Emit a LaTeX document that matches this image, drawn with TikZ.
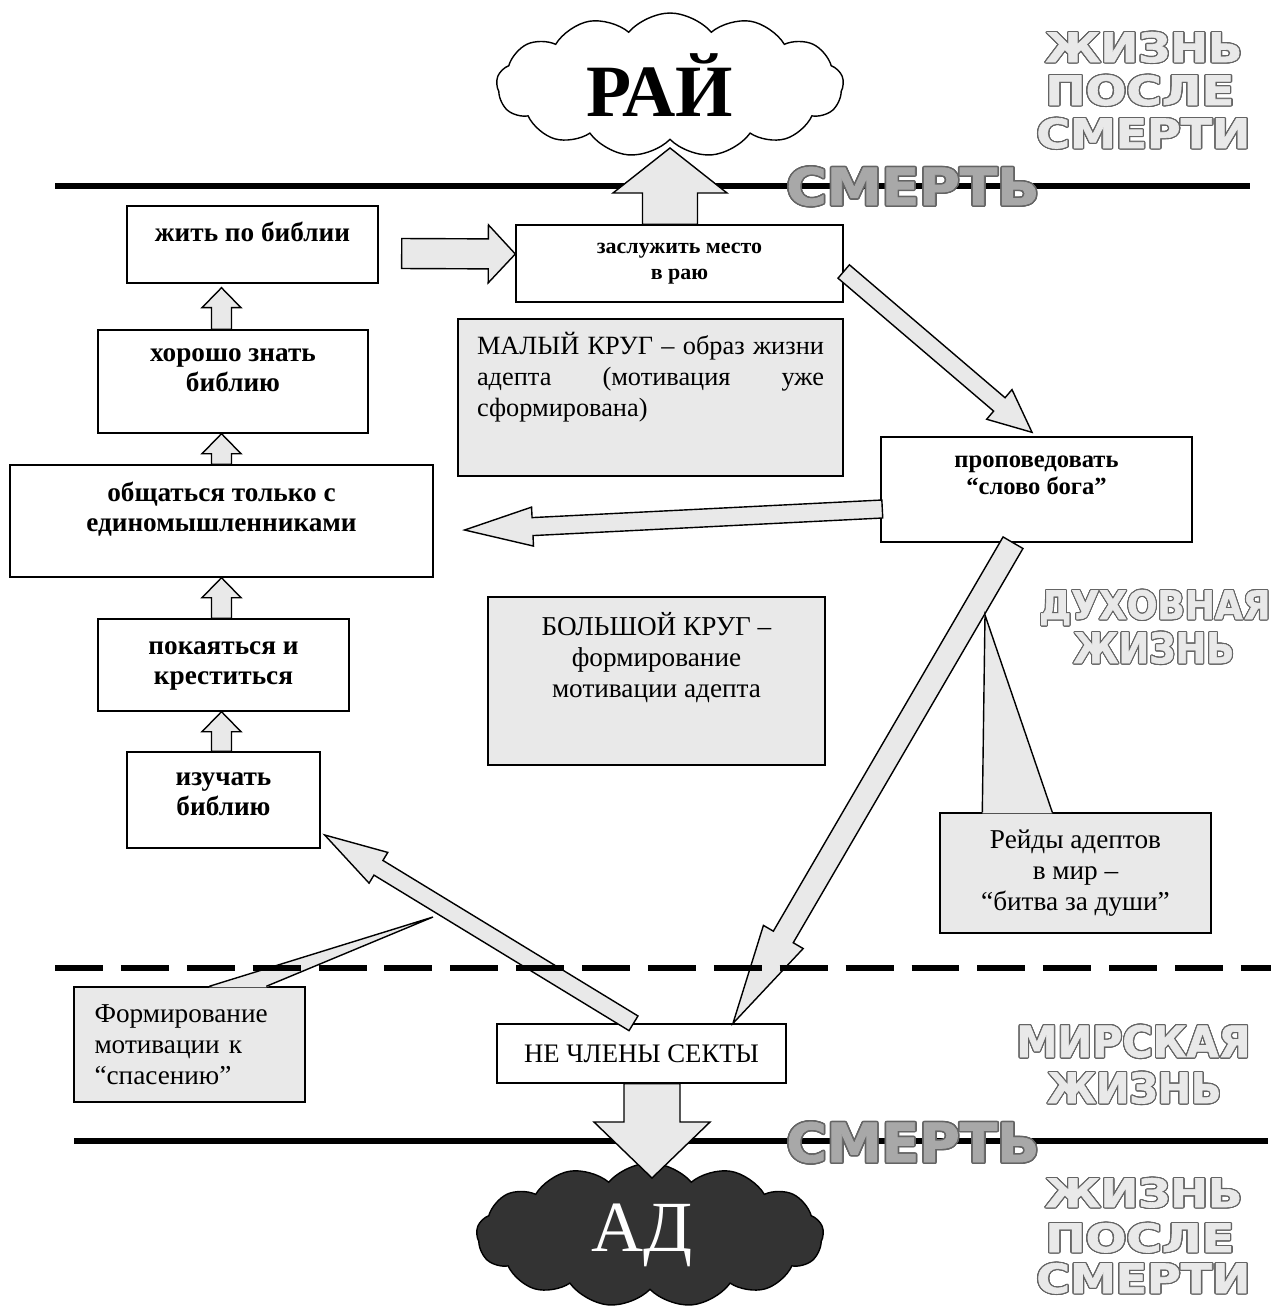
\documentclass[tikz,border=0pt]{standalone}
\usepackage{fontspec}
\setmainfont{Liberation Serif}
\newfontfamily\zonefont{DejaVu Sans}[BoldFeatures={FakeBold=1.5}]
\usepackage{contour}
\contourlength{0.7pt}
\usetikzlibrary{calc,shapes.symbols}
\definecolor{ash}{RGB}{233,233,233}
\definecolor{smoke}{RGB}{168,168,168}
\definecolor{slate}{RGB}{100,100,100}
\definecolor{charcoal}{RGB}{51,51,51}
\newlength\pxu
\setlength\pxu{0.02cm}

% block arrow: from, to, half shaft, half head, head length (in px)
\newcommand\blockarrow[5]{%
  \path let \p1=(#1), \p2=(#2) in
    \pgfextra{\pgfmathsetmacro\bxang{atan2(\y2-\y1,\x2-\x1)}%
      \pgfmathsetmacro\bxlen{veclen(\x2-\x1,\y2-\y1)/0.569055}%
      \xdef\bxang{\bxang}\xdef\bxlen{\bxlen}};
  \filldraw[blockarr, shift={(#1)}, rotate=\bxang, x=0.02cm, y=0.02cm]
    (0,-#3) -- (\bxlen-#5,-#3) -- (\bxlen-#5,-#4) -- (\bxlen,0)
    -- (\bxlen-#5,#4) -- (\bxlen-#5,#3) -- (0,#3) -- cycle;
}

\begin{document}
\begin{tikzpicture}[x=0.02cm, y=-0.02cm,
    lifebox/.style={draw, line width=0.8pt, fill=white, align=center, inner sep=0pt,
      font=\bfseries\fontsize{15.5}{17.1}\selectfont},
    smallbox/.style={lifebox, font=\bfseries\fontsize{12.5}{15.1}\selectfont},
    notebox/.style={draw, line width=0.8pt, fill=ash, align=center, inner sep=0pt,
      font=\fontsize{15.5}{17.6}\selectfont},
    blockarr/.style={draw, line width=0.8pt, fill=ash, line join=miter},
    deathline/.style={line width=3.4pt},
    worldline/.style={line width=3.4pt, dash pattern=on 27.3pt off 10.2pt},
    zonelabel/.style={anchor=base west, inner sep=0pt,
      font=\zonefont\bfseries\fontsize{24}{24}\selectfont},
    heaven/.style={cloud, cloud puffs=13, cloud puff arc=100, cloud ignores aspect, draw,
      line width=0.8pt, inner sep=0pt, minimum width=347\pxu, minimum height=144\pxu}]
  \useasboundingbox (0,0) rectangle (1271,1306);

  % border lines
  \draw[deathline] (55,186) -- (1250,186);
  \draw[deathline] (74,1141) -- (1268,1141);

  % clouds
  \node[heaven, fill=white, font=\bfseries\fontsize{42}{42}\selectfont] (rai) at (670,85) {\hspace*{-20\pxu}РАЙ};
  \node[heaven, fill=charcoal, text=white, font=\fontsize{41}{41}\selectfont] (ad) at (650,1235) {\hspace*{-16\pxu}АД};

  % small circle
  \node[lifebox, minimum width=251\pxu, minimum height=77\pxu, text depth=25\pxu] (zhit) at (252.5,244.5) {жить по библии};
  \node[smallbox, minimum width=327\pxu, minimum height=77\pxu] (zasluzhit) at (679.5,263.5) {заслужить место\\в раю};
  \node[lifebox, minimum width=270\pxu, minimum height=103\pxu, text depth=22\pxu] (khorosho) at (233,381.5) {хорошо знать\\библию};
  \node[lifebox, minimum width=423\pxu, minimum height=112\pxu, text depth=28\pxu] (obshch) at (221.5,521) {общаться только с\\единомышленниками};
  \node[smallbox, font=\bfseries\fontsize{14}{15.3}\selectfont, minimum width=311\pxu, minimum height=105\pxu, text depth=28\pxu] (propoved) at (1036.5,489.5) {проповедовать\\“слово бога”};

  % big circle
  \node[lifebox, minimum width=251\pxu, minimum height=92\pxu, text depth=4\pxu] (pokay) at (223.5,665) {покаяться и\\креститься};
  \node[lifebox, minimum width=193\pxu, minimum height=96\pxu, text depth=12\pxu] (izuchat) at (223.5,800) {изучать\\библию};
  \node[lifebox, font=\fontsize{15.2}{16}\selectfont, minimum width=289\pxu, minimum height=59\pxu] (nechleny) at (641.5,1053.5) {НЕ ЧЛЕНЫ СЕКТЫ};

  % notes
  \node[notebox, font=\fontsize{15}{17.6}\selectfont, text width=347\pxu, align=left, minimum width=385\pxu, minimum height=157\pxu, text depth=109\pxu] (malyi) at (650.5,397.5)
    {\makebox[347\pxu][s]{МАЛЫЙ\hfill КРУГ\hfill –\hfill образ\hfill жизни}\\\makebox[347\pxu][s]{адепта\hfill(мотивация\hfill уже}\\сформирована)};
  \node[notebox, minimum width=337\pxu, minimum height=168\pxu, text depth=52\pxu] (bolshoi) at (656.5,681) {БОЛЬШОЙ КРУГ –\\формирование\\мотивации адепта};

  % arrows
  \blockarrow{$(zasluzhit.north)+(-9.5,0)$}{$(rai.center)+(0,63)$}{27.5}{57}{45}
  \blockarrow{$(zhit.east)+(23,9)$}{$(zasluzhit.west)+(0,-9.5)$}{15}{29}{27}
  \blockarrow{obshch.north |- izuchat.north}{obshch.north |- pokay.south}{10}{19.5}{20}
  \blockarrow{obshch.north |- pokay.north}{obshch.south}{10}{19.5}{20}
  \blockarrow{obshch.north}{obshch.north |- khorosho.south}{10}{19.5}{20}
  \blockarrow{obshch.north |- khorosho.north}{$(obshch.north |- zhit.south)+(0,4)$}{10}{19.5}{20}
  \blockarrow{$(zasluzhit.east)+(0,8)$}{$(propoved.north)+(-4.5,-4)$}{8.8}{19.5}{43}
  \blockarrow{$(propoved.west)+(2,19.5)$}{$(obshch.east)+(31,9)$}{9}{19.5}{68}
  \blockarrow{$(propoved.south)+(-23.5,0)$}{$(nechleny.north)+(91.5,0)$}{11.5}{23}{100}
  \blockarrow{$(nechleny.north)+(-8,0)$}{$(izuchat.east)+(4,35)$}{8.6}{18}{63}
  \blockarrow{$(nechleny.south)+(10.5,0)$}{$(ad.center)+(2,-57)$}{28}{58}{56}

  % callouts
  \node[notebox, minimum width=271\pxu, minimum height=120\pxu] (reidy) at (1075.5,873) {Рейды адептов\\в мир –\\“битва за души”};
  \coordinate (reidytip) at (985,615);
  \fill[ash] ($(reidy.north west)+(43,1)$) -- (reidytip) -- ($(reidy.north west)+(113,1)$) -- cycle;
  \draw[line width=0.8pt, line join=miter] ($(reidy.north west)+(43,0)$) -- (reidytip) -- ($(reidy.north west)+(113,0)$);

  \node[notebox, text width=190\pxu, align=left, minimum width=231\pxu, minimum height=115\pxu] (formir) at (189.5,1044.5) {Формирование\\мотивации к\\“спасению”};
  \coordinate (formirtip) at (433,917);
  \fill[ash] ($(formir.north west)+(136,1)$) -- (formirtip) -- ($(formir.north west)+(193,1)$) -- cycle;
  \draw[line width=0.8pt, line join=miter] ($(formir.north west)+(136,0)$) -- (formirtip) -- ($(formir.north west)+(193,0)$);

  % border of the world
  \draw[worldline] (55,968) -- (1271,968);

  % zone labels
  \node[zonelabel, text=ash] (zhizn1) at (1045,62) {\resizebox{197\pxu}{30\pxu}{\contour{slate}{ЖИЗНЬ}}};
  \node[zonelabel, text=ash] (posle1) at (1045,105) {\resizebox{189\pxu}{30\pxu}{\contour{slate}{ПОСЛЕ}}};
  \node[zonelabel, text=ash] (smerti1) at (1036,148) {\resizebox{214\pxu}{30\pxu}{\contour{slate}{СМЕРТИ}}};
  \node[zonelabel, text=smoke] (smert1) at (786,205) {\resizebox{253\pxu}{38\pxu}{\contour{slate}{СМЕРТЬ}}};
  \node[zonelabel, text=ash] (dukh) at (1039,619) {\resizebox{231\pxu}{29\pxu}{\contour{slate}{ДУХОВНАЯ}}};
  \node[zonelabel, text=ash] (zhizn2) at (1073,663) {\resizebox{161\pxu}{31\pxu}{\contour{slate}{ЖИЗНЬ}}};
  \node[zonelabel, text=ash] (mir) at (1016,1057) {\resizebox{234\pxu}{32\pxu}{\contour{slate}{МИРСКАЯ}}};
  \node[zonelabel, text=ash] (zhizn3) at (1047,1103) {\resizebox{174\pxu}{31\pxu}{\contour{slate}{ЖИЗНЬ}}};
  \node[zonelabel, text=smoke] (smert2) at (786,1162) {\resizebox{253\pxu}{40\pxu}{\contour{slate}{СМЕРТЬ}}};
  \node[zonelabel, text=ash] (zhizn4) at (1045,1207) {\resizebox{197\pxu}{29\pxu}{\contour{slate}{ЖИЗНЬ}}};
  \node[zonelabel, text=ash] (posle2) at (1045,1252) {\resizebox{189\pxu}{29\pxu}{\contour{slate}{ПОСЛЕ}}};
  \node[zonelabel, text=ash] (smerti2) at (1036,1293) {\resizebox{214\pxu}{30\pxu}{\contour{slate}{СМЕРТИ}}};
\end{tikzpicture}
\end{document}
